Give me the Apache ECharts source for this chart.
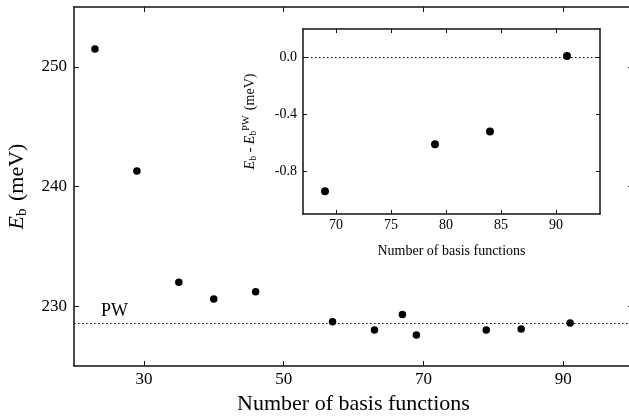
<!DOCTYPE html>
<html>
<head>
<meta charset="utf-8">
<script src="https://cdn.jsdelivr.net/npm/echarts@6/dist/echarts.min.js"></script>
<style>
  html, body { margin: 0; padding: 0; background: #fff; }
  #chart { width: 629px; height: 416px; }
</style>
</head>
<body>
<div id="chart"></div>
<script>
// main panel: binding energy vs number of basis functions
const mainN = [23, 29, 35, 40, 46, 57, 63, 67, 69, 79, 84, 91];
const mainEb = [251.5, 241.3, 232.0, 230.6, 231.2, 228.7, 228.0, 229.3, 227.6, 228.0, 228.1, 228.6];
const pwEb = 228.6;
const mainXTicks = [30, 50, 70, 90];
const mainYTicks = [230, 240, 250];

// inset: difference to plane-wave result
const insetN = [69, 79, 84, 91];
const insetDiff = [-0.94, -0.61, -0.52, 0.01];
const insetXTicks = [70, 75, 80, 85, 90];
const insetYTicks = [-0.8, -0.4, 0.0];

const FONT = '"Liberation Serif", "DejaVu Serif", serif';
const INK = '#111';

const chart = echarts.init(document.getElementById('chart'));

function frameAxis(grid, pos, min, max, ticks, tickLen, showLabel, extra) {
  return Object.assign({
    type: 'value',
    gridIndex: grid,
    position: pos,
    min: min,
    max: max,
    splitLine: { show: false },
    axisLine: { show: true, onZero: false, lineStyle: { color: INK, width: 1.5 } },
    axisTick: { show: true, inside: true, length: tickLen, customValues: ticks, lineStyle: { color: INK, width: 1 } },
    axisLabel: { show: showLabel, customValues: ticks }
  }, extra || {});
}

const option = {
  animation: false,
  backgroundColor: '#fff',
  textStyle: { fontFamily: FONT },
  grid: [
    // right edge of the main frame lies just outside the picture
    { left: 74, top: 7, width: 559, bottom: 50, outerBoundsMode: 'none', containLabel: false },
    { left: 303, top: 29, right: 29, bottom: 202, outerBoundsMode: 'none', containLabel: false,
      show: true, backgroundColor: '#fff', borderWidth: 0 }
  ],
  xAxis: [
    frameAxis(0, 'bottom', 20, 100, mainXTicks, 5, true, {
      name: 'Number of basis functions',
      nameLocation: 'middle',
      nameGap: 26,
      nameTextStyle: { fontFamily: FONT, fontSize: 22, color: '#000' }
    }),
    frameAxis(0, 'top', 20, 100, mainXTicks, 5, false),
    frameAxis(1, 'bottom', 67, 94, insetXTicks, 4, true, {
      name: 'Number of basis functions',
      nameLocation: 'middle',
      nameGap: 30,
      nameTextStyle: { fontFamily: FONT, fontSize: 14, color: '#000' }
    }),
    frameAxis(1, 'top', 67, 94, insetXTicks, 4, false)
  ],
  yAxis: [
    frameAxis(0, 'left', 225, 255, mainYTicks, 5, true, {
      name: '{it|E}{sub|b} (meV)',
      nameLocation: 'middle',
      nameRotate: 90,
      nameGap: 44,
      nameTextStyle: {
        fontFamily: FONT, fontSize: 22, color: '#000',
        rich: {
          it: { fontFamily: FONT, fontSize: 22, fontStyle: 'italic', color: '#000' },
          sub: { fontFamily: FONT, fontSize: 15, color: '#000', padding: [10, 2, 0, 0] }
        }
      }
    }),
    frameAxis(0, 'right', 225, 255, mainYTicks, 5, false),
    frameAxis(1, 'left', -1.1, 0.2, insetYTicks, 4, true, {
      name: '{it|E}{sub|b} - {it|E}{sub|b}{sup|PW} (meV)',
      nameLocation: 'middle',
      nameRotate: 90,
      nameGap: 44,
      nameTextStyle: {
        fontFamily: FONT, fontSize: 14, color: '#000',
        rich: {
          it: { fontFamily: FONT, fontSize: 14, fontStyle: 'italic', color: '#000' },
          sub: { fontFamily: FONT, fontSize: 10, color: '#000', padding: [7, 0, 0, 0] },
          sup: { fontFamily: FONT, fontSize: 10, color: '#000', padding: [0, 2, 8, 0] }
        }
      }
    }),
    frameAxis(1, 'right', -1.1, 0.2, insetYTicks, 4, false)
  ],
  series: [
    {
      type: 'scatter',
      xAxisIndex: 0,
      yAxisIndex: 0,
      symbolSize: 7.5,
      itemStyle: { color: '#000', opacity: 1 },
      data: mainN.map((n, i) => [n, mainEb[i]]),
      markLine: {
        silent: true,
        symbol: 'none',
        label: { show: false },
        lineStyle: { color: '#000', type: [1.5, 2.5], width: 1 },
        data: [{ yAxis: pwEb }]
      },
      z: 3
    },
    {
      type: 'scatter',
      xAxisIndex: 2,
      yAxisIndex: 2,
      symbolSize: 8,
      itemStyle: { color: '#000', opacity: 1 },
      data: insetN.map((n, i) => [n, insetDiff[i]]),
      markLine: {
        silent: true,
        symbol: 'none',
        label: { show: false },
        lineStyle: { color: '#000', type: [1.5, 2.5], width: 1 },
        data: [{ yAxis: 0 }]
      },
      z: 3
    }
  ],
  graphic: [
    {
      type: 'text',
      left: 101,
      top: 302,
      style: { text: 'PW', font: '18px ' + FONT, fill: '#000' }
    }
  ]
};

// tick label fonts
option.xAxis[0].axisLabel.fontSize = 17;
option.xAxis[0].axisLabel.margin = 5;
option.yAxis[0].axisLabel.fontSize = 17;
option.yAxis[0].axisLabel.margin = 7;
option.xAxis[2].axisLabel.fontSize = 14;
option.xAxis[2].axisLabel.margin = 4;
option.yAxis[2].axisLabel.fontSize = 14;
option.yAxis[2].axisLabel.margin = 6;
option.yAxis[2].axisLabel.formatter = v => v.toFixed(1);
[option.xAxis[0], option.yAxis[0], option.xAxis[2], option.yAxis[2]].forEach(a => {
  a.axisLabel.color = '#000';
  a.axisLabel.fontFamily = FONT;
});

chart.setOption(option);
</script>
</body>
</html>
